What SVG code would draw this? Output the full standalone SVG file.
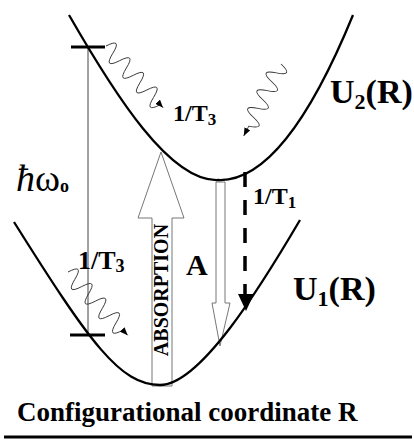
<svg xmlns="http://www.w3.org/2000/svg" width="414" height="441" viewBox="0 0 414 441">
<style>
.t{font-family:"Liberation Serif","Times New Roman",serif;font-weight:bold;fill:#000}
.curve{fill:none;stroke:#000;stroke-width:2.3}
.wave{fill:none;stroke:#333;stroke-width:0.9}
.hollow{fill:#fff;stroke:#777;stroke-width:1}
.tick{stroke:#000;stroke-width:3}
</style>
<defs>
<marker id="wa" viewBox="0 0 10 8" refX="10" refY="4" markerWidth="8" markerHeight="6.4" markerUnits="userSpaceOnUse" orient="auto"><path d="M0,0 L10,4 L0,8 z" fill="#000"/></marker>
</defs>
<rect width="414" height="441" fill="#fff"/>
<g id="connectors">
<line x1="88" y1="47" x2="88" y2="335" stroke="#444" stroke-width="1"/>
<line class="tick" x1="71" y1="47" x2="105" y2="47"/>
<line class="tick" x1="70" y1="335" x2="105" y2="335"/>
<path class="wave" marker-end="url(#wa)" transform="translate(106,46) rotate(47.2)" d="M0,0 q5,-18 10,0 t10,0 t10,0 t10,0 t10,0 t10,0 t10,0 t10,0 L84,0"/>
<path class="wave" marker-end="url(#wa)" transform="translate(281,64) rotate(117.4)" d="M0,0 q5,-18 10,0 t10,0 t10,0 t10,0 t10,0 t10,0 t10,0 L81,0"/>
<path class="wave" marker-end="url(#wa)" transform="translate(68,272) rotate(46.7)" d="M0,0 q5,-18 10,0 t10,0 t10,0 t10,0 t10,0 t10,0 t10,0 t10,0 L87,0"/>
<line x1="245" y1="172" x2="245" y2="296" stroke="#000" stroke-width="3.5" stroke-dasharray="15,13"/>
<polygon points="238,294 254,294 246,311" fill="#000"/>
</g>
<g id="absorption">
<polygon class="hollow" points="152,386 152,218 138,218 161,152 184,218 172,218 172,386"/>
<text class="t" font-size="20" text-anchor="middle" transform="translate(168,290) rotate(-90)">ABSORPTION</text>
</g>
<g id="emissionA">
<polygon class="hollow" points="216,182 225,182 225,303 230,303 220,346 212,303 216,303"/>
<text class="t" x="186" y="275" font-size="30">A</text>
</g>
<g id="U2">
<path class="curve" d="M69,15 C115,95 170,182 218,180 C265,182 310,120 353,15"/>
<text class="t" x="330" y="103" font-size="34">U<tspan font-size="22" dy="6">2</tspan><tspan dy="-6">(R)</tspan></text>
</g>
<g id="U1">
<path class="curve" d="M14,222 C90,343 120,385 160,385 C200,385 260,288 300,220"/>
<text class="t" x="293" y="300" font-size="34">U<tspan font-size="22" dy="6">1</tspan><tspan dy="-6">(R)</tspan></text>
</g>
<g id="labels">
<text class="t" x="16" y="191" style="font-size:38px;font-weight:normal"><tspan style="font-style:italic">ħ</tspan>ω<tspan style="font-size:18px;font-weight:bold" dy="1">o</tspan></text>
<text class="t" x="173" y="121" font-size="24">1/T<tspan font-size="17" dy="4">3</tspan></text>
<text class="t" x="78" y="269" font-size="26">1/T<tspan font-size="18" dy="3">3</tspan></text>
<text class="t" x="253" y="204" font-size="24">1/T<tspan font-size="17" dy="4">1</tspan></text>
<text class="t" x="17" y="421" font-size="27">Configurational coordinate R</text>
</g>
<line x1="4" y1="437" x2="412" y2="437" stroke="#000" stroke-width="3"/>
</svg>
